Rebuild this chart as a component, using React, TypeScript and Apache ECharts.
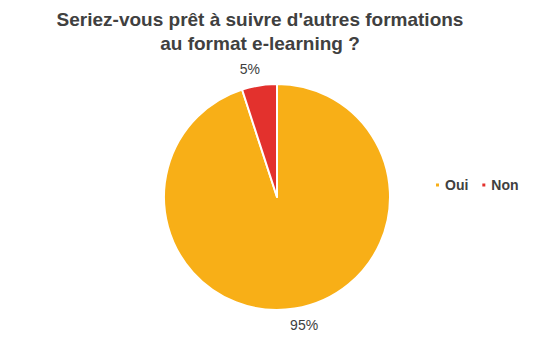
import React, { useEffect, useRef } from "react";
import * as echarts from "echarts";

const titleText = "Seriez-vous prêt à suivre d'autres formations\nau format e-learning ?";
const categories = ["Oui", "Non"];
const values = [95, 5];
const colors = ["#F8AF17", "#E3312D"];

export default function App() {
  const ref = useRef<HTMLDivElement>(null);
  useEffect(() => {
    if (!ref.current) return;
    const chart = echarts.init(ref.current, undefined, { renderer: "svg" });
    const data = categories.map((name, i) => ({
      name,
      value: values[i],
      itemStyle: { color: colors[i] },
    }));
    const total = values.reduce((a, b) => a + b, 0);
    chart.setOption({
      animation: false,
      backgroundColor: "#ffffff",
      title: {
        text: titleText,
        left: 255,
        top: 2,
        textAlign: "center",
        textStyle: {
          fontFamily: "Liberation Sans, Arial, sans-serif",
          fontSize: 19,
          fontWeight: "bold",
          color: "#404040",
          lineHeight: 24,
        },
      },
      legend: {
        data: categories,
        left: 429,
        top: 173,
        icon: "rect",
        itemWidth: 5,
        itemHeight: 5,
        itemGap: 12,
        textStyle: {
          fontFamily: "Liberation Sans, Arial, sans-serif",
          fontSize: 14,
          fontWeight: "bold",
          color: "#404040",
        },
      },
      series: [
        {
          type: "pie",
          center: [277, 197],
          radius: [0, 113],
          startAngle: 90,
          clockwise: true,
          data,
          label: { show: false },
          labelLine: { show: false },
          itemStyle: { borderColor: "#ffffff", borderWidth: 2 },
          emphasis: { disabled: true },
        },
        {
          type: "pie",
          center: [277, 197],
          radius: [113, 142],
          startAngle: 93,
          clockwise: true,
          silent: true,
          legendHoverLink: false,
          data: data.map((d) => ({ ...d, itemStyle: { color: "transparent" } })),
          itemStyle: { color: "transparent", borderWidth: 0 },
          label: {
            show: true,
            position: "inside",
            formatter: (p: any) => Math.round((p.value / total) * 100) + "%",
            fontFamily: "Liberation Sans, Arial, sans-serif",
            fontSize: 14,
            color: "#404040",
          },
          labelLine: { show: false },
          emphasis: { disabled: true },
        },
      ],
    });
    return () => chart.dispose();
  }, []);
  return (
    <div
      ref={ref}
      style={{ position: "absolute", left: 0, top: 0, width: 559, height: 361 }}
    />
  );
}
